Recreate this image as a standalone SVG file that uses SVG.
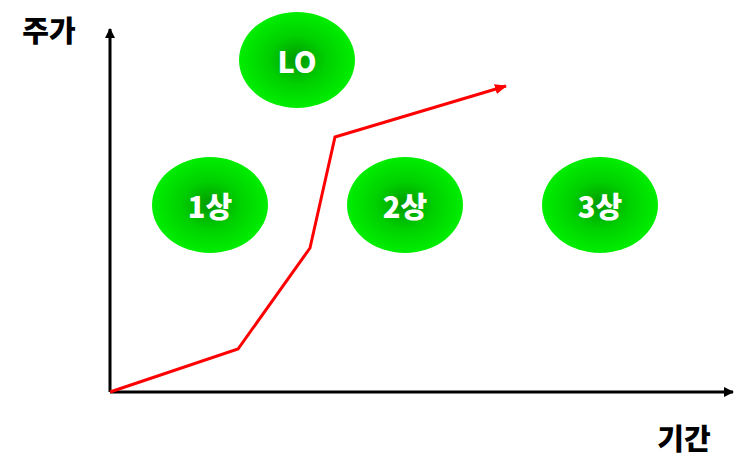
<svg xmlns="http://www.w3.org/2000/svg" width="743" height="475" viewBox="0 0 743 475">
<style>
.lbl{font-family:"Noto Sans CJK KR","Noto Sans",sans-serif;font-weight:900;font-size:29px;fill:#fff;text-anchor:middle;dominant-baseline:central}
.ax{font-family:"Noto Sans CJK KR","Noto Sans",sans-serif;font-weight:900;font-size:29px;fill:#000;text-anchor:middle;dominant-baseline:central}
.node{fill:url(#g)}
</style>
<defs>
<radialGradient id="g" cx="0.5" cy="0.5" r="0.5">
<stop offset="0" stop-color="#009900"/>
<stop offset="0.5" stop-color="#00d000"/>
<stop offset="1" stop-color="#00ee00"/>
</radialGradient>
<marker id="ka" markerWidth="10" markerHeight="10" refX="9" refY="5" orient="auto" markerUnits="userSpaceOnUse"><path d="M0,0 L10,5 L0,10 z" fill="#000"/></marker>
<marker id="ra" markerWidth="12" markerHeight="10" refX="11" refY="5" orient="auto" markerUnits="userSpaceOnUse"><path d="M0,0 L12,5 L0,10 z" fill="#ff0000"/></marker>
</defs>
<g id="lo"><ellipse class="node" cx="297" cy="60" rx="58" ry="48"/><text class="lbl" x="297" y="60">LO</text></g>
<g id="s1"><ellipse class="node" cx="210" cy="205" rx="58" ry="48"/><text class="lbl" x="210" y="205">1상</text></g>
<g id="s2"><ellipse class="node" cx="405" cy="205" rx="58" ry="48"/><text class="lbl" x="405" y="205">2상</text></g>
<g id="s3"><ellipse class="node" cx="600" cy="205" rx="58" ry="48"/><text class="lbl" x="600" y="205">3상</text></g>
<g id="connectors">
<line x1="110" y1="392" x2="110" y2="29" stroke="#000" stroke-width="3" marker-end="url(#ka)"/>
<line x1="110" y1="392" x2="733" y2="392" stroke="#000" stroke-width="3" marker-end="url(#ka)"/>
<polyline points="110,392 238,349 310,248 335,137 506,86" fill="none" stroke="#ff0000" stroke-width="3" marker-end="url(#ra)"/>
</g>
<text class="ax" x="49" y="29">주가</text>
<text class="ax" x="684" y="437">기간</text>
</svg>
